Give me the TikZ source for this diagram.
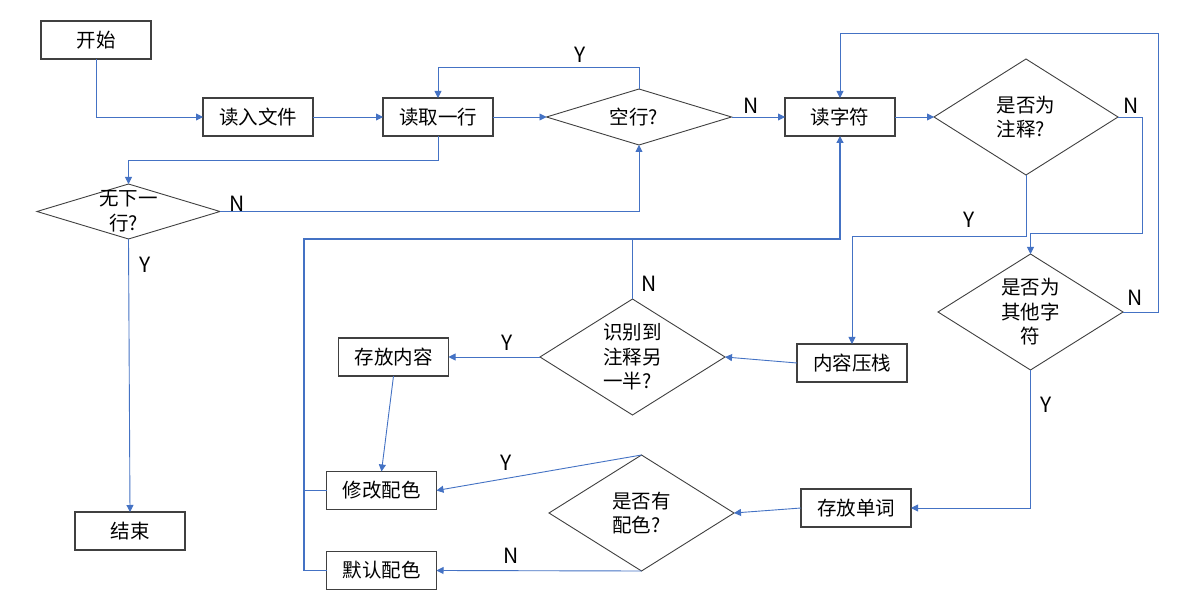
\documentclass[tikz,border=0pt]{standalone}
\usepackage{fontspec}
\setmainfont{Noto Sans CJK SC}
\usetikzlibrary{arrows.meta,calc,shapes.geometric}
\definecolor{lnblue}{RGB}{68,114,196}
\definecolor{bd}{RGB}{64,64,64}
\newcommand\qm{\makebox[1em][l]{?}}
\newcommand\cnf{\fontsize{19.5}{24.5}\selectfont}
\newcommand\ynf{\fontsize{21}{24}\selectfont}
\begin{document}
\begin{tikzpicture}[x=1pt,y=-1pt,
 box/.style={draw=bd,line width=1.1pt,minimum width=110pt,minimum height=38pt,inner sep=0pt,outer sep=0pt,font=\cnf},
 dia/.style={draw=bd,line width=0.9pt,shape=diamond,inner sep=0pt,outer sep=0pt},
 dtxt/.style={font=\cnf,align=center,inner sep=0pt},
 conn/.style={draw=lnblue,line width=0.9pt},
 arr/.style={conn,-{Triangle[length=7pt,width=7pt]}},
 yn/.style={font=\ynf,inner sep=0pt}]
\fill[white] (0,0) rectangle (1187,601);
\useasboundingbox (0,0) rectangle (1187,601);

% boxes
\node[box] (start) at (96,40) {开始};
\node[box] (readfile) at (258,117) {读入文件};
\node[box] (readline) at (438,117) {读取一行};
\node[box] (readchar) at (840,117) {读字符};
\node[box] (end) at (130,531) {结束};
\node[box] (push) at (852,363) {内容压栈};
\node[box] (store) at (393.5,357) {存放内容};
\node[box] (modify) at (381.5,490.5) {修改配色};
\node[box] (default) at (381.5,570.5) {默认配色};
\node[box] (word) at (856,508) {存放单词};

% diamonds
\node[dia,minimum width=185pt,minimum height=56pt,label={[dtxt]center:空行\qm}] (empty) at (639,117) {};
\node[dia,minimum width=184pt,minimum height=116pt,label={[dtxt]center:是否为\\注释\qm}] (comment) at (1026,117) {};
\node[dia,minimum width=183pt,minimum height=55pt,label={[dtxt]center:无下一\\行\qm}] (nonext) at (128.5,211.5) {};
\node[dia,minimum width=185pt,minimum height=116pt,label={[dtxt]center:是否为\\其他字\\符}] (other) at (1030.5,312) {};
\node[dia,minimum width=185pt,minimum height=116pt,label={[dtxt]center:识别到\\注释另\\一半\qm}] (half) at (632.5,357) {};
\node[dia,minimum width=185pt,minimum height=116pt,label={[dtxt]center:是否有\\配色\qm}] (color) at (641.5,513) {};

% connectors
\draw[arr] (start.south) |- (readfile.west);
\draw[arr] (readfile.east) -- (readline.west);
\draw[arr] (readline.east) -- (empty.west);
\draw[arr] (empty.north) -- (639,67) -| (readline.north);
\draw[arr] (empty.east) -- (readchar.west);
\draw[arr] (readline.south) -- (438,160) -| (nonext.north);
\draw[arr] (nonext.east) -| (empty.south);
\draw[arr] (nonext.south) -- (end.north);
\draw[arr] (readchar.east) -- (comment.west);
\draw[arr] (comment.south) -- (1026,236) -| (push.north);
\draw[arr] (comment.east) -- (1142,117) -- (1142,233) -| (other.north);
\draw[arr] (other.east) -- (1158,312) -- (1158,33) -| (readchar.north);
\draw[arr] (other.south) |- (word.east);
\draw[arr] (push.west) -- (half.east);
\draw[arr] (half.west) -- (store.east);
\draw[arr] (store.south) -- (modify.north);
\draw[arr] (word.west) -- (color.east);
\draw[arr] (color.north) -- (modify.east);
\draw[arr] (color.south) -- (default.east);

\coordinate (busL) at (304,239);
\draw[arr,line width=1.3pt] (default.west) -| (busL) -- (busL -| readchar) -- (readchar.south);
\draw[conn] (modify.west) -- (modify.west -| busL);
\draw[conn] (half.north) -- (half.north |- busL);

% labels
\node[yn] (y1) at (580,55) {Y};
\node[yn] (n1) at (751,106) {N};
\node[yn] (n2) at (237,204) {N};
\node[yn] (y2) at (145,265) {Y};
\node[yn] (n3) at (649,284) {N};
\node[yn] (y3) at (507,343) {Y};
\node[yn] (y4) at (506,463) {Y};
\node[yn] (n4) at (511,556) {N};
\node[yn] (n5) at (1131,106) {N};
\node[yn] (y5) at (969,220) {Y};
\node[yn] (n6) at (1135,298) {N};
\node[yn] (y6) at (1046,405) {Y};
\end{tikzpicture}
\end{document}
